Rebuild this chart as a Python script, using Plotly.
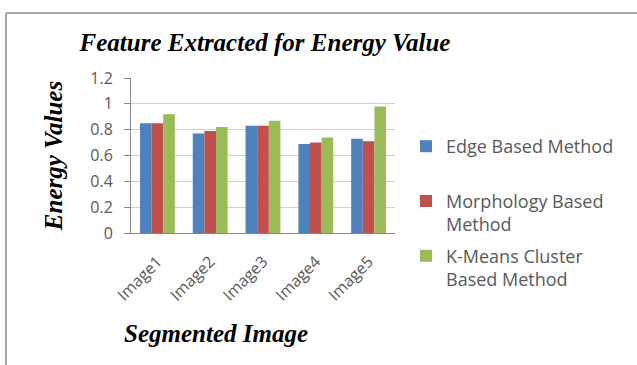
import plotly.graph_objects as go

categories = ["Image1", "Image2", "Image3", "Image4", "Image5"]
edge_based = [0.85, 0.77, 0.83, 0.69, 0.73]
morphology_based = [0.85, 0.79, 0.83, 0.70, 0.71]
kmeans_based = [0.92, 0.82, 0.87, 0.74, 0.98]
series_names = ["Edge Based Method<br> ", "Morphology Based<br>Method", "K-Means Cluster<br>Based Method"]
colors = ["#4F81BD", "#C0504D", "#9BBB59"]

fig = go.Figure()
for name, vals, col, grp in zip(series_names, [edge_based, morphology_based, kmeans_based], colors, ["a", "b", "c"]):
    fig.add_trace(go.Bar(x=categories, y=vals, name=name, marker_color=col,
                         marker_line_width=0, legendgroup=grp))

serif = "Liberation Serif, Times New Roman, serif"
sans = "Open Sans, Lato, sans-serif"

L, R, T, B = 131, 242, 78, 132
W, H = 637, 365
pw, ph = W - L - R, H - T - B

def px(x):
    return (x - L) / pw

def py(y):
    return (H - B - y) / ph

fig.update_layout(
    width=W, height=H,
    margin=dict(l=L, r=R, t=T, b=B, autoexpand=False),
    paper_bgcolor="white", plot_bgcolor="white",
    barmode="group", bargap=0.34, bargroupgap=0,
    title=dict(text="<b><i>Feature Extracted for Energy Value</i></b>",
               font=dict(family=serif, size=25, color="black"),
               x=px(265), xref="paper", xanchor="center", y=1 - 42 / H, yanchor="middle"),
    xaxis=dict(showline=True, linecolor="#868686", linewidth=1, automargin=False,
               tickangle=-45, tickfont=dict(family=sans, size=16, color="#595959"),
               ticks="", showgrid=False, ticklabelstandoff=12),
    yaxis=dict(range=[0, 1.2], dtick=0.2, showline=True, linecolor="#868686", linewidth=1,
               automargin=False,
               ticks="outside", ticklen=6, tickcolor="#868686",
               gridcolor="#D0D0D0", gridwidth=1,
               tickfont=dict(family=sans, size=16, color="#595959"),
               ticklabelstandoff=8,
               tickformat="~g",
               title=dict(text="<b><i>Energy Values</i></b>",
                          font=dict(family=serif, size=25, color="black"), standoff=20)),
    legend=dict(x=px(406), y=py(128), xanchor="left", yanchor="top",
                font=dict(family=sans, size=18, color="#595959"),
                tracegroupgap=5, valign="top", itemwidth=30, traceorder="grouped",
                maxheight=320),
    annotations=[dict(text="<b><i>Segmented Image</i></b>", x=px(216), y=py(333),
                      xref="paper", yref="paper", showarrow=False,
                      xanchor="center", yanchor="middle",
                      font=dict(family=serif, size=25, color="black"))],
    shapes=[
        dict(type="line", xref="paper", yref="paper", x0=px(6), x1=px(640), y0=py(13), y1=py(13),
             line=dict(color="#A6A6A6", width=2)),
        dict(type="line", xref="paper", yref="paper", x0=px(6), x1=px(6), y0=py(13), y1=py(370),
             line=dict(color="#A6A6A6", width=2)),
    ],
)

fig.write_html("out.html", config={"displayModeBar": False},
               post_script="document.body.style.margin='0px';")
